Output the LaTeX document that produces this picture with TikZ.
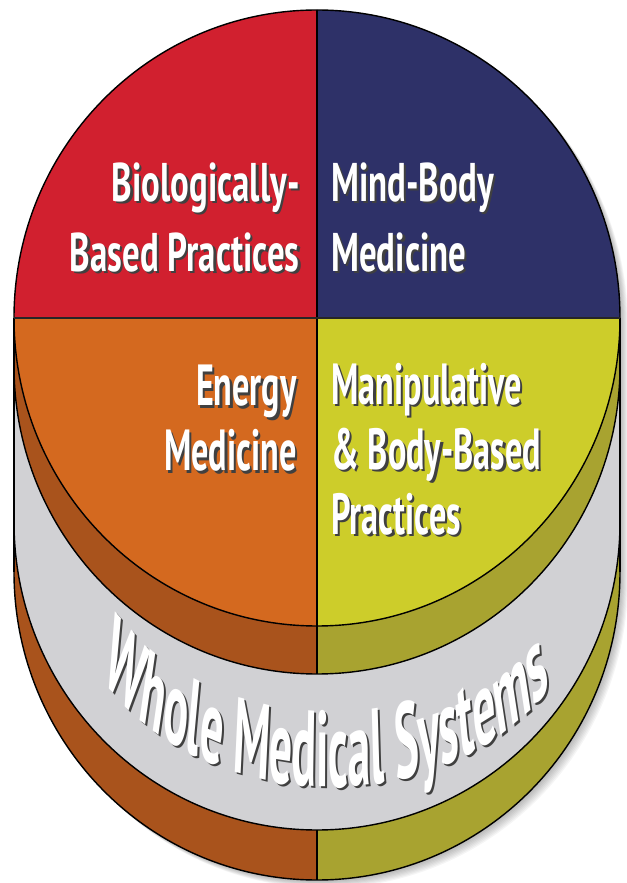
\documentclass[tikz,border=0pt]{standalone}
\usepackage{fontspec}
\usetikzlibrary{decorations.text}
\newfontfamily\toplblfont[FakeStretch=0.64]{PT Sans}
\newfontfamily\lowlblfont[FakeStretch=0.59]{PT Sans}
\newfontfamily\wmsfont{PT Sans}
\definecolor{bioRed}{HTML}{D1202F}
\definecolor{mindBlue}{HTML}{2E3168}
\definecolor{energyOrange}{HTML}{D4691F}
\definecolor{manipYellow}{HTML}{CDCD2A}
\definecolor{rimOrange}{HTML}{A9531C}
\definecolor{rimOlive}{HTML}{A8A330}
\definecolor{wholeGray}{HTML}{D1D1D4}
\newcommand{\shtext}[1]{\makebox[0pt][l]{\hspace{1.3pt}\raisebox{-1.3pt}{\color{black!75}#1}}#1}
\tikzset{
  rim/.style={x radius=303, y radius=308},
  edge/.style={draw=black, line width=0.8pt},
  toplbl/.style={text=white, inner sep=0pt, font=\toplblfont\bfseries\fontsize{31}{40}\selectfont},
  lowlbl/.style={text=white, inner sep=0pt, font=\lowlblfont\bfseries\fontsize{33}{37}\selectfont},
  bandtext/.style={decorate, decoration={text along path, text color=#1, text align=center,
    text={|\wmsfont\bfseries\fontsize{26}{30}\selectfont|Whole Medical Systems}}}
}
\begin{document}
\begin{tikzpicture}[x=0.02cm, y=0.02cm]
\useasboundingbox (0,0) rectangle (626,883);
% soft shadow
\foreach \s in {1,...,8}{
  \begin{scope}[shift={(\s,-\s)}]
    \fill[black, opacity=0.04] (14,565) arc[rim, start angle=180, end angle=0] -- (620,311) arc[rim, start angle=0, end angle=-180] -- cycle;
  \end{scope}
}
% bottom rim
\fill[rimOrange] (14,361) -- (14,311) arc[rim, start angle=180, end angle=270] -- (317,53) arc[rim, start angle=270, end angle=180] -- cycle;
\fill[rimOlive] (317,53) -- (317,3) arc[rim, start angle=270, end angle=360] -- (620,361) arc[rim, start angle=0, end angle=-90] -- cycle;
% gray band
\fill[wholeGray] (14,517) -- (14,361) arc[rim, start angle=180, end angle=360] -- (620,517) arc[rim, start angle=0, end angle=-180] -- cycle;
% top rim
\fill[rimOrange] (14,565) -- (14,517) arc[rim, start angle=180, end angle=270] -- (317,257) arc[rim, start angle=270, end angle=180] -- cycle;
\fill[rimOlive] (317,257) -- (317,209) arc[rim, start angle=270, end angle=360] -- (620,565) arc[rim, start angle=0, end angle=-90] -- cycle;
% top face
\fill[bioRed] (317,565) -- (14,565) arc[rim, start angle=180, end angle=90] -- cycle;
\fill[mindBlue] (317,565) -- (317,873) arc[rim, start angle=90, end angle=0] -- cycle;
\fill[energyOrange] (317,565) -- (14,565) arc[rim, start angle=180, end angle=270] -- cycle;
\fill[manipYellow] (317,565) -- (620,565) arc[rim, start angle=0, end angle=-90] -- cycle;
% outlines
\draw[edge] (317,565) ellipse[rim];
\draw[edge] (14,517) arc[rim, start angle=180, end angle=360];
\draw[edge] (14,361) arc[rim, start angle=180, end angle=360];
\draw[edge] (14,311) arc[rim, start angle=180, end angle=360];
\draw[edge] (14,565) -- (14,311);
\draw[edge] (620,565) -- (620,311);
\draw[edge] (317,873) -- (317,209);
\draw[edge] (317,53) -- (317,3);
\draw[black!85, line width=1.6pt] (14,565) -- (620,565);
% labels
\draw (300,721) node[toplbl, anchor=north east, align=right](bio) {\shtext{Biologically-}\\\shtext{Based Practices}};
\draw (331,721) node[toplbl, anchor=north west, align=left](mind) {\shtext{Mind-Body}\\\shtext{Medicine}};
\draw (297,518) node[lowlbl, anchor=north east, align=right](energy) {\shtext{Energy}\\\shtext{Medicine}};
\draw (331,520) node[lowlbl, anchor=north west, align=left](manip) {\shtext{Manipulative}\\\shtext{\& Body-Based}\\\shtext{Practices}};
% curved label, stretched like the rest of the drum
\begin{scope}[transform canvas={yscale=2.35}]
  \path[bandtext=black!75] (332,130.25) ++(211:260 and 90.2) arc[start angle=211, end angle=326, x radius=260, y radius=90.2];
  \path[bandtext=white] (330,131.1) ++(211:260 and 90.2) arc[start angle=211, end angle=326, x radius=260, y radius=90.2];
\end{scope}
\end{tikzpicture}
\end{document}
